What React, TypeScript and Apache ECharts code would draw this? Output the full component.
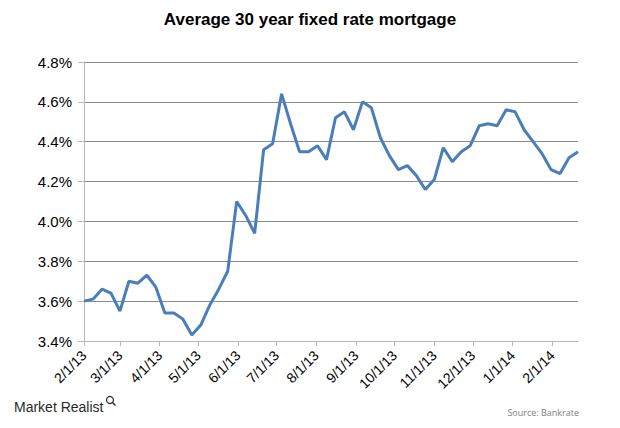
import React, { useEffect, useRef } from "react";
import * as echarts from "echarts";

const title = "Average 30 year fixed rate mortgage";
const dates = [
  "2013-02-01", "2013-02-08", "2013-02-15", "2013-02-22",
  "2013-03-01", "2013-03-08", "2013-03-15", "2013-03-22", "2013-03-29",
  "2013-04-05", "2013-04-12", "2013-04-19", "2013-04-26",
  "2013-05-03", "2013-05-10", "2013-05-17", "2013-05-24", "2013-05-31",
  "2013-06-07", "2013-06-14", "2013-06-21", "2013-06-28",
  "2013-07-05", "2013-07-12", "2013-07-19", "2013-07-26",
  "2013-08-02", "2013-08-09", "2013-08-16", "2013-08-23", "2013-08-30",
  "2013-09-06", "2013-09-13", "2013-09-20", "2013-09-27",
  "2013-10-04", "2013-10-11", "2013-10-18", "2013-10-25",
  "2013-11-01", "2013-11-08", "2013-11-15", "2013-11-22", "2013-11-29",
  "2013-12-06", "2013-12-13", "2013-12-20", "2013-12-27",
  "2014-01-03", "2014-01-10", "2014-01-17", "2014-01-24", "2014-01-31",
  "2014-02-07", "2014-02-14", "2014-02-21",
];
const rates = [
  3.60, 3.61, 3.66, 3.64,
  3.55, 3.70, 3.69, 3.73, 3.67,
  3.54, 3.54, 3.51, 3.43,
  3.48, 3.58, 3.66, 3.75, 4.10,
  4.03, 3.94, 4.36, 4.39,
  4.64, 4.49, 4.35, 4.35,
  4.38, 4.31, 4.52, 4.55, 4.46,
  4.60, 4.57, 4.42, 4.33,
  4.26, 4.28, 4.23, 4.16,
  4.21, 4.37, 4.30, 4.35, 4.38,
  4.48, 4.49, 4.48, 4.56,
  4.55, 4.46, 4.40, 4.34, 4.26,
  4.24, 4.32, 4.35,
];
const yMin = 3.4;
const yMax = 4.8;
const yStep = 0.2;
const axisStart = "2013-02-01";
const axisEnd = "2014-02-21";
const brand = "Market Realist";
const source = "Source: Bankrate";

function toTime(s: string): number {
  const [y, m, d] = s.split("-").map(Number);
  return new Date(y, m - 1, d).getTime();
}

export default function App() {
  const ref = useRef<HTMLDivElement>(null);
  useEffect(() => {
    document.body.style.margin = "0";
    if (!ref.current) return;
    const chart = echarts.init(ref.current, null, { renderer: "svg" });
    const day = 86400000;
    chart.setOption({
      animation: false,
      backgroundColor: "#ffffff",
      title: {
        text: title,
        left: "center",
        top: 6,
        textStyle: {
          fontFamily: "Liberation Sans, Arial, sans-serif",
          fontSize: 17,
          fontWeight: "bold",
          color: "#000000",
        },
      },
      grid: { left: 84, right: 42, top: 62, bottom: 87, containLabel: false },
      xAxis: {
        type: "time",
        min: toTime(axisStart),
        max: toTime(axisEnd),
        minInterval: 28 * day,
        maxInterval: 31 * day,
        splitNumber: 13,
        axisLine: { show: true, lineStyle: { color: "#b8b8b8", width: 1 } },
        axisTick: { show: true, length: 5, lineStyle: { color: "#b8b8b8" } },
        splitLine: { show: false },
        axisLabel: {
          rotate: 45,
          margin: 12,
          fontFamily: "Liberation Sans, Arial, sans-serif",
          fontSize: 14,
          color: "#000000",
          hideOverlap: false,
          formatter: (v: number) => {
            const d = new Date(v);
            return `${d.getMonth() + 1}/${d.getDate()}/${String(d.getFullYear()).slice(2)}`;
          },
        },
      },
      yAxis: {
        type: "value",
        min: yMin,
        max: yMax,
        interval: yStep,
        axisLine: { show: true, lineStyle: { color: "#b8b8b8", width: 1 } },
        axisTick: { show: true, length: 6, lineStyle: { color: "#b8b8b8" } },
        splitLine: { show: true, lineStyle: { color: "#8c8c8c", width: 1 } },
        axisLabel: {
          margin: 12,
          fontFamily: "Liberation Sans, Arial, sans-serif",
          fontSize: 15,
          color: "#000000",
          formatter: (v: number) => v.toFixed(1) + "%",
        },
      },
      series: [
        {
          type: "line",
          data: dates.map((d, i) => [toTime(d), rates[i]]),
          showSymbol: false,
          symbol: "none",
          lineStyle: { color: "#4a7ebb", width: 3 },
          itemStyle: { color: "#4a7ebb" },
        },
      ],
      graphic: [
        {
          type: "text",
          left: 14,
          top: 400,
          style: {
            text: brand,
            fontFamily: "Liberation Sans, Arial, sans-serif",
            fontSize: 14,
            fill: "#2a2a2a",
          },
        },
        {
          type: "circle",
          shape: { cx: 110, cy: 400, r: 3.5 },
          style: { fill: "none", stroke: "#2a2a2a", lineWidth: 1.2 },
        },
        {
          type: "line",
          shape: { x1: 112.5, y1: 402.5, x2: 115.5, y2: 405.5 },
          style: { stroke: "#2a2a2a", lineWidth: 1.5 },
        },
        {
          type: "text",
          right: 41,
          top: 408,
          style: {
            text: source,
            fontFamily: "Open Sans, Noto Sans, sans-serif",
            fontSize: 9,
            fill: "#808080",
          },
        },
      ],
    });
    return () => chart.dispose();
  }, []);
  return <div ref={ref} style={{ width: 620, height: 428 }} />;
}
